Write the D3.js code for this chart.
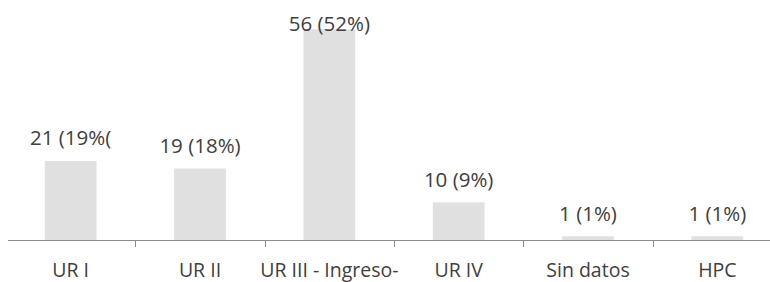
<!DOCTYPE html>
<html><head><meta charset="utf-8">
<script src="https://cdn.jsdelivr.net/npm/d3@7"></script>
<style>html,body{margin:0;padding:0;background:#fff;overflow:hidden}</style>
</head><body>
<svg id="c" width="770" height="282"></svg>
<script>
const categories = ["UR I", "UR II", "UR III - Ingreso-", "UR IV", "Sin datos", "HPC"];
const values = [21, 19, 56, 10, 1, 1];
const labels = ["21 (19%(", "19 (18%)", "56 (52%)", "10 (9%)", "1 (1%)", "1 (1%)"];

const svg = d3.select("#c");
const x = d3.scaleBand().domain(categories).range([6, 782]).paddingInner(0).paddingOuter(0);
const y = d3.scaleLinear().domain([0, 56]).range([240, 29.3]);
const bw = x.bandwidth() * 0.4;

svg.selectAll("rect.bar").data(categories).join("rect")
  .attr("x", d => x(d) + (x.bandwidth() - bw) / 2)
  .attr("y", (d, i) => y(values[i]))
  .attr("width", bw)
  .attr("height", (d, i) => y(0) - y(values[i]))
  .attr("fill", "#e0e0e0");

svg.append("line").attr("x1", 8).attr("x2", 770).attr("y1", 240.5).attr("y2", 240.5)
  .attr("stroke", "#8c8c8c").attr("stroke-width", 1);

svg.selectAll("line.tick").data(categories.slice(1)).join("line")
  .attr("x1", d => Math.round(x(d)) + 0.5).attr("x2", d => Math.round(x(d)) + 0.5)
  .attr("y1", 240).attr("y2", 247)
  .attr("stroke", "#8c8c8c");

svg.selectAll("text.val").data(categories).join("text")
  .attr("x", d => x(d) + x.bandwidth() / 2)
  .attr("y", (d, i) => Math.max(31, y(values[i]) - 15.5))
  .attr("text-anchor", "middle")
  .attr("font-family", "Open Sans")
  .attr("font-size", 20.5)
  .attr("fill", "#404040")
  .text((d, i) => labels[i]);

svg.selectAll("text.cat").data(categories).join("text")
  .attr("x", d => x(d) + x.bandwidth() / 2)
  .attr("y", 277)
  .attr("text-anchor", "middle")
  .attr("font-family", "Open Sans")
  .attr("font-size", 19.5)
  .attr("fill", "#404040")
  .text(d => d);
</script>
</body></html>
